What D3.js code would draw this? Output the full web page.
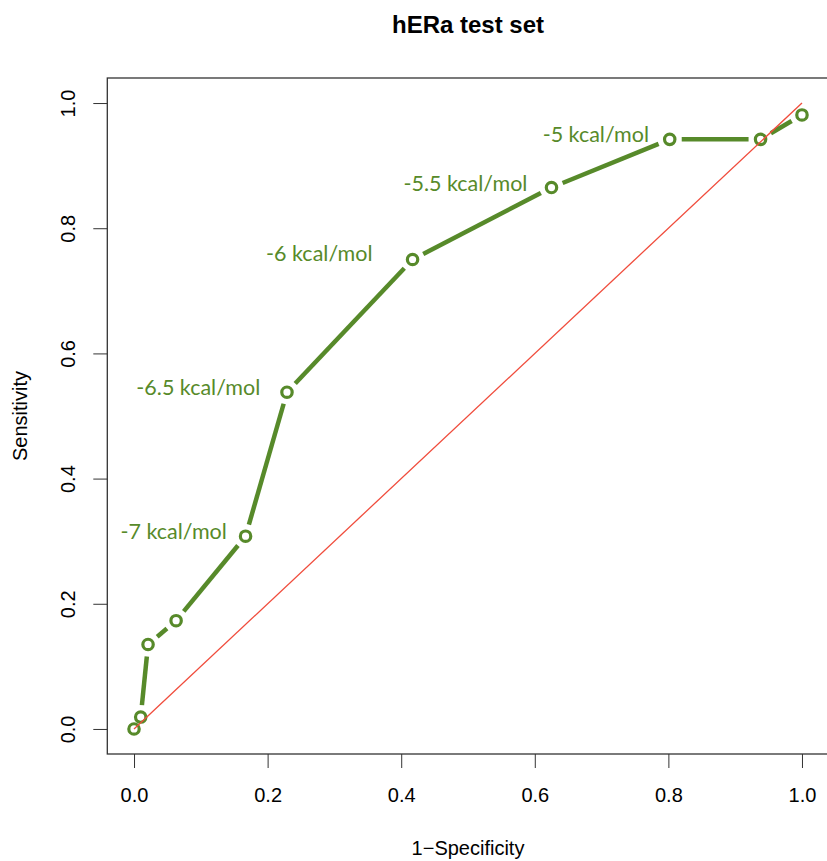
<!DOCTYPE html>
<html>
<head>
<meta charset="utf-8">
<script src="https://cdn.jsdelivr.net/npm/d3@7"></script>
<style>
  body { margin: 0; background: #fff; }
  svg { display: block; }
</style>
</head>
<body>
<div id="chart"></div>
<script>
// ROC points
var fpr = [0, 0.010, 0.021, 0.063, 0.167, 0.229, 0.417, 0.625, 0.802, 0.938, 1.0];
var tpr = [0, 0.019, 0.135, 0.173, 0.308, 0.538, 0.750, 0.865, 0.942, 0.942, 0.981];

// cutoff labels, placed by their right end / middle in data units
var labelText = ["-7 kcal/mol", "-6.5 kcal/mol", "-6 kcal/mol", "-5.5 kcal/mol", "-5 kcal/mol"];
var labelX = [0.139, 0.189, 0.357, 0.589, 0.771];
var labelY = [0.315, 0.545, 0.759, 0.872, 0.950];

var tickValues = [0, 0.2, 0.4, 0.6, 0.8, 1.0];

var W = 827, H = 861;
var green = "#578a2a";
var axisFont = "'Liberation Sans', Arial, Helvetica, sans-serif";

var svg = d3.select("#chart").append("svg")
  .attr("width", W)
  .attr("height", H);

// R style: 4% padding on each side of [0, 1]
var x = d3.scaleLinear().domain([-0.04, 1.04]).range([107.3, 828.7]);
var y = d3.scaleLinear().domain([-0.04, 1.04]).range([754, 78]);

// title
svg.append("text")
  .attr("x", (x.range()[0] + x.range()[1]) / 2)
  .attr("y", 33)
  .attr("text-anchor", "middle")
  .style("font-family", axisFont)
  .style("font-weight", "bold")
  .style("font-size", "24px")
  .text("hERa test set");

// x axis
var gx = svg.append("g")
  .attr("transform", "translate(0," + y.range()[0] + ")")
  .call(d3.axisBottom(x).tickValues(tickValues).tickFormat(d3.format(".1f"))
    .tickSize(14).tickSizeOuter(0).tickPadding(20));
gx.select(".domain").remove();
gx.selectAll(".tick line").attr("stroke", "#333");
gx.selectAll(".tick text")
  .style("font-family", axisFont)
  .style("font-size", "20px")
  .attr("fill", "#000");

// y axis, labels turned like R's las = 0
var gy = svg.append("g")
  .attr("transform", "translate(" + x.range()[0] + ",0)")
  .call(d3.axisLeft(y).tickValues(tickValues).tickFormat(d3.format(".1f"))
    .tickSize(14).tickSizeOuter(0));
gy.select(".domain").remove();
gy.selectAll(".tick line").attr("stroke", "#333");
gy.selectAll(".tick text")
  .attr("x", 0)
  .attr("dy", "0.35em")
  .attr("text-anchor", "middle")
  .attr("transform", "translate(-39,0) rotate(-90)")
  .style("font-family", axisFont)
  .style("font-size", "20px")
  .attr("fill", "#000");

// axis titles
svg.append("text")
  .attr("x", (x.range()[0] + x.range()[1]) / 2)
  .attr("y", 855)
  .attr("text-anchor", "middle")
  .style("font-family", axisFont)
  .style("font-size", "20px")
  .text("1\u2212Specificity");

svg.append("text")
  .attr("transform", "translate(27," + (y.range()[0] + y.range()[1]) / 2 + ") rotate(-90)")
  .attr("text-anchor", "middle")
  .style("font-family", axisFont)
  .style("font-size", "20px")
  .text("Sensitivity");

// plot box
svg.append("rect")
  .attr("x", x.range()[0])
  .attr("y", y.range()[1])
  .attr("width", x.range()[1] - x.range()[0])
  .attr("height", y.range()[0] - y.range()[1])
  .attr("fill", "none")
  .attr("stroke", "#333")
  .attr("stroke-width", 1.3);

// type = "b": segments leave a gap around each point
var gap = 12;
var pts = fpr.map(function(d, i) { return [x(d), y(tpr[i])]; });
var segs = [];
for (var i = 0; i < pts.length - 1; i++) {
  var dx = pts[i + 1][0] - pts[i][0];
  var dy = pts[i + 1][1] - pts[i][1];
  var len = Math.sqrt(dx * dx + dy * dy);
  if (len <= 2 * gap) continue;
  var ux = dx / len, uy = dy / len;
  segs.push([pts[i][0] + ux * gap, pts[i][1] + uy * gap,
             pts[i + 1][0] - ux * gap, pts[i + 1][1] - uy * gap]);
}
svg.selectAll(".seg")
  .data(segs)
  .enter()
  .append("line")
  .attr("class", "seg")
  .attr("x1", function(d) { return d[0]; })
  .attr("y1", function(d) { return d[1]; })
  .attr("x2", function(d) { return d[2]; })
  .attr("y2", function(d) { return d[3]; })
  .attr("stroke", green)
  .attr("stroke-width", 4.5);

svg.selectAll(".pt")
  .data(fpr)
  .enter()
  .append("circle")
  .attr("class", "pt")
  .attr("cx", function(d) { return x(d); })
  .attr("cy", function(d, i) { return y(tpr[i]); })
  .attr("r", 5.2)
  .attr("fill", "none")
  .attr("stroke", green)
  .attr("stroke-width", 3.2);

// chance line
svg.append("line")
  .attr("x1", x(0)).attr("y1", y(0))
  .attr("x2", x(1)).attr("y2", y(1))
  .attr("stroke", "#f04c3c")
  .attr("stroke-width", 1.3);

// cutoff labels
svg.selectAll(".lab")
  .data(labelText)
  .enter()
  .append("text")
  .attr("class", "lab")
  .attr("x", function(d, i) { return x(labelX[i]); })
  .attr("y", function(d, i) { return y(labelY[i]); })
  .attr("dy", "0.35em")
  .attr("text-anchor", "end")
  .attr("fill", green)
  .style("font-family", "Lato, 'Open Sans', sans-serif")
  .style("font-size", "21.5px")
  .text(function(d) { return d; });
</script>
</body>
</html>
